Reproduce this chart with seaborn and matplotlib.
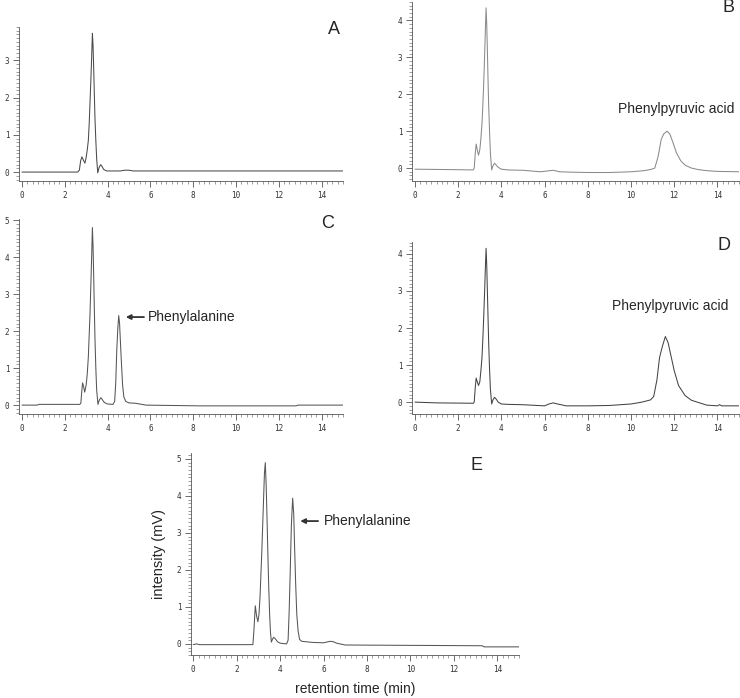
import numpy as np
import pandas as pd
import matplotlib
matplotlib.use("Agg")
import matplotlib.pyplot as plt
from matplotlib.ticker import MultipleLocator
import seaborn as sns

# ====================================================================================================
# Data
# ====================================================================================================

tA = [0, 2.6, 2.68, 2.74, 2.8, 2.87, 2.94, 3.0, 3.05, 3.1, 3.14, 3.18, 3.22, 3.25, 3.29, 3.32,
      3.35, 3.38, 3.41, 3.45, 3.49, 3.54, 3.6, 3.68, 3.75, 3.82, 3.95, 4.6, 4.8, 5.0, 5.2, 5.8, 15]
yA = [0, 0, 0.05, 0.3, 0.41, 0.32, 0.24, 0.4, 0.6, 0.85, 1.3, 1.9, 2.5, 3.0, 3.73, 3.4,
      2.8, 2.1, 1.45, 0.85, 0.35, -0.02, 0.12, 0.2, 0.14, 0.07, 0.03, 0.03, 0.05, 0.05, 0.03, 0.03, 0.03]

tB = [0, 1.5, 2.7, 2.74, 2.79, 2.83, 2.88, 2.94, 3.0, 3.05, 3.1, 3.14, 3.18, 3.22, 3.25, 3.29,
      3.32, 3.35, 3.38, 3.41, 3.45, 3.49, 3.55, 3.6, 3.68, 3.76, 3.85, 4.0, 4.3, 5.0, 5.8, 6.1,
      6.4, 6.7, 7.2, 8.0, 9.0, 10.0, 10.6, 10.9, 11.1, 11.25, 11.4, 11.52, 11.67, 11.8, 11.95, 12.1,
      12.3, 12.5, 12.8, 13.1, 13.5, 14.0, 15.0]
yB = [-0.03, -0.04, -0.05, 0.0, 0.4, 0.65, 0.5, 0.35, 0.5, 0.8, 1.2, 1.7, 2.3, 3.0, 3.6, 4.34,
      3.9, 3.2, 2.4, 1.7, 1.0, 0.4, -0.05, 0.05, 0.13, 0.08, 0.02, -0.03, -0.05, -0.06, -0.1, -0.08,
      -0.06, -0.1, -0.11, -0.12, -0.12, -0.1, -0.07, -0.04, 0.0, 0.3, 0.78, 0.93, 1.0, 0.92, 0.68, 0.42,
      0.2, 0.08, 0.0, -0.04, -0.07, -0.09, -0.1]

tC = [0, 0.7, 0.8, 2.7, 2.75, 2.79, 2.83, 2.88, 2.93, 3.0, 3.05, 3.1, 3.14, 3.18, 3.22, 3.25,
      3.29, 3.32, 3.35, 3.38, 3.41, 3.45, 3.49, 3.55, 3.6, 3.68, 3.75, 3.85, 4.0, 4.25, 4.33, 4.38,
      4.43, 4.48, 4.52, 4.56, 4.6, 4.65, 4.7, 4.76, 4.85, 5.0, 5.3, 5.5, 5.8, 8.3, 12.8, 12.9, 15]
yC = [0, 0, 0.02, 0.02, 0.05, 0.35, 0.6, 0.5, 0.35, 0.55, 0.85, 1.3, 1.9, 2.5, 3.3, 3.9,
      4.8, 4.3, 3.5, 2.6, 1.8, 1.0, 0.4, 0.02, 0.12, 0.2, 0.15, 0.07, 0.03, 0.02, 0.1, 0.6,
      1.5, 2.1, 2.42, 2.2, 1.7, 1.1, 0.55, 0.22, 0.1, 0.06, 0.05, 0.03, 0.0, -0.02, -0.02, 0.0, 0.0]

tD = [0, 1.0, 2.7, 2.74, 2.79, 2.83, 2.88, 2.94, 3.0, 3.05, 3.1, 3.14, 3.18, 3.22, 3.25, 3.29,
      3.32, 3.35, 3.38, 3.41, 3.45, 3.49, 3.55, 3.6, 3.68, 3.76, 3.85, 4.0, 4.3, 5.0, 6.0, 6.2,
      6.4, 6.6, 7.0, 8.0, 9.0, 10.0, 10.5, 10.9, 11.05, 11.2, 11.32, 11.45, 11.59, 11.72, 11.85, 12.0,
      12.2, 12.5, 12.8, 13.5, 14.0, 14.1, 14.2, 15.0]
yD = [0, -0.02, -0.03, 0.0, 0.4, 0.65, 0.55, 0.45, 0.55, 0.85, 1.2, 1.7, 2.3, 2.95, 3.5, 4.15,
      3.7, 3.0, 2.3, 1.6, 0.9, 0.35, -0.05, 0.05, 0.13, 0.08, 0.0, -0.05, -0.06, -0.07, -0.1, -0.05,
      -0.02, -0.05, -0.1, -0.1, -0.09, -0.05, 0.0, 0.06, 0.15, 0.6, 1.2, 1.5, 1.77, 1.6, 1.25, 0.85,
      0.45, 0.18, 0.05, -0.08, -0.1, -0.07, -0.1, -0.1]

tE = [0, 0.15, 0.3, 2.75, 2.8, 2.86, 2.92, 2.98, 3.03, 3.08, 3.12, 3.16, 3.2, 3.24, 3.28, 3.32,
      3.36, 3.4, 3.44, 3.48, 3.52, 3.56, 3.6, 3.65, 3.7, 3.78, 3.88, 4.0, 4.3, 4.37, 4.42, 4.47,
      4.52, 4.58, 4.63, 4.67, 4.72, 4.77, 4.83, 4.9, 5.0, 5.5, 6.0, 6.15, 6.3, 6.45, 6.6, 7.0,
      13.3, 13.4, 15.0]
yE = [-0.02, 0.0, -0.02, -0.02, 0.4, 1.03, 0.75, 0.6, 0.8, 1.3, 1.9, 2.5, 3.2, 3.9, 4.6, 4.9,
      4.3, 3.4, 2.4, 1.5, 0.8, 0.3, 0.05, 0.12, 0.18, 0.14, 0.06, 0.02, 0.0, 0.1, 0.9, 2.0,
      3.2, 3.94, 3.5, 2.6, 1.6, 0.8, 0.35, 0.12, 0.07, 0.04, 0.03, 0.05, 0.07, 0.06, 0.02, -0.03,
      -0.05, -0.08, -0.08]

panelLabels = ["A", "B", "C", "D", "E"]
ppaText = "Phenylpyruvic acid"
pheText = "Phenylalanine"

# ====================================================================================================
# Layout helpers
# ====================================================================================================

W, H = 740, 698

def _rect(x0, y0, x1, y1):
    # pixel box (top-left origin) -> figure fraction
    return [x0 / W, 1 - y1 / H, (x1 - x0) / W, (y1 - y0) / H]

def _styleAx(ax, ylim, xlim):
    ax.set_xlim(*xlim)
    ax.set_ylim(*ylim)
    ax.xaxis.set_major_locator(MultipleLocator(2))
    ax.xaxis.set_minor_locator(MultipleLocator(0.25))
    ax.yaxis.set_major_locator(MultipleLocator(1))
    ax.yaxis.set_minor_locator(MultipleLocator(0.1))
    ax.tick_params(which="major", length=4, width=0.6, color="#555", labelsize=5.5,
                   labelcolor="#333", pad=3)
    ax.tick_params(which="minor", length=2, width=0.5, color="#777")
    for lab in ax.get_xticklabels() + ax.get_yticklabels():
        lab.set_family("DejaVu Sans Mono")
    for s in ["left", "bottom"]:
        ax.spines[s].set_linewidth(0.6)
        ax.spines[s].set_color("#555")
    sns.despine(ax=ax)
    ax.set_xlabel("")
    ax.set_ylabel("")

def _drawTrace(ax, t, y, color):
    df = pd.DataFrame({"t": t, "y": y})
    sns.lineplot(ax=ax, data=df, x="t", y="y", color=color, linewidth=0.75, sort=False)

# ====================================================================================================
# Figure
# ====================================================================================================

sns.set_style("ticks")
plt.rcParams["font.family"] = ["Liberation Sans", "DejaVu Sans"]

fig = plt.figure(figsize=(W / 100, H / 100), dpi=100)

axA = fig.add_axes(_rect(19, 27, 343, 181))
axB = fig.add_axes(_rect(412, 2, 739, 181))
axC = fig.add_axes(_rect(19, 219, 343, 414))
axD = fig.add_axes(_rect(412, 242, 739, 414))
axE = fig.add_axes(_rect(191, 453, 519, 655))

_drawTrace(axA, tA, yA, "#4a4a4a")
_styleAx(axA, (-0.24, 3.9), (-0.14, 15))
_drawTrace(axB, tB, yB, "#8a8a8a")
_styleAx(axB, (-0.35, 4.5), (-0.14, 15))
_drawTrace(axC, tC, yC, "#555555")
_styleAx(axC, (-0.24, 5.03), (-0.14, 15))
_drawTrace(axD, tD, yD, "#444444")
_styleAx(axD, (-0.32, 4.32), (-0.14, 15))
_drawTrace(axE, tE, yE, "#555555")
_styleAx(axE, (-0.3, 5.16), (-0.1, 15))

# peak annotations
axB.text(12.1, 1.6, ppaText, ha="center", va="center", fontsize=10)
axD.text(11.8, 2.6, ppaText, ha="center", va="center", fontsize=10)

arrowKw = dict(arrowstyle="-|>", lw=1.3, color="#333", mutation_scale=7, shrinkA=0, shrinkB=0)
axC.annotate("", xy=(4.85, 2.38), xytext=(5.7, 2.38), arrowprops=arrowKw)
axC.text(5.9, 2.38, pheText, ha="left", va="center", fontsize=10)
axE.annotate("", xy=(4.93, 3.32), xytext=(5.75, 3.32), arrowprops=arrowKw)
axE.text(6.04, 3.32, pheText, ha="left", va="center", fontsize=10)

axE.set_xlabel("retention time (min)", fontsize=10, labelpad=6)
axE.set_ylabel("intensity (mV)", fontsize=10.5, labelpad=8)

# panel letters
for (lab, (px, py)) in zip(panelLabels, [(334, 30), (728, 8), (328, 224), (724, 245), (476, 466)]):
    fig.text(px / W, 1 - py / H, lab, ha="center", va="center", fontsize=13)

plt.savefig("out.png", dpi=100)
plt.close()
